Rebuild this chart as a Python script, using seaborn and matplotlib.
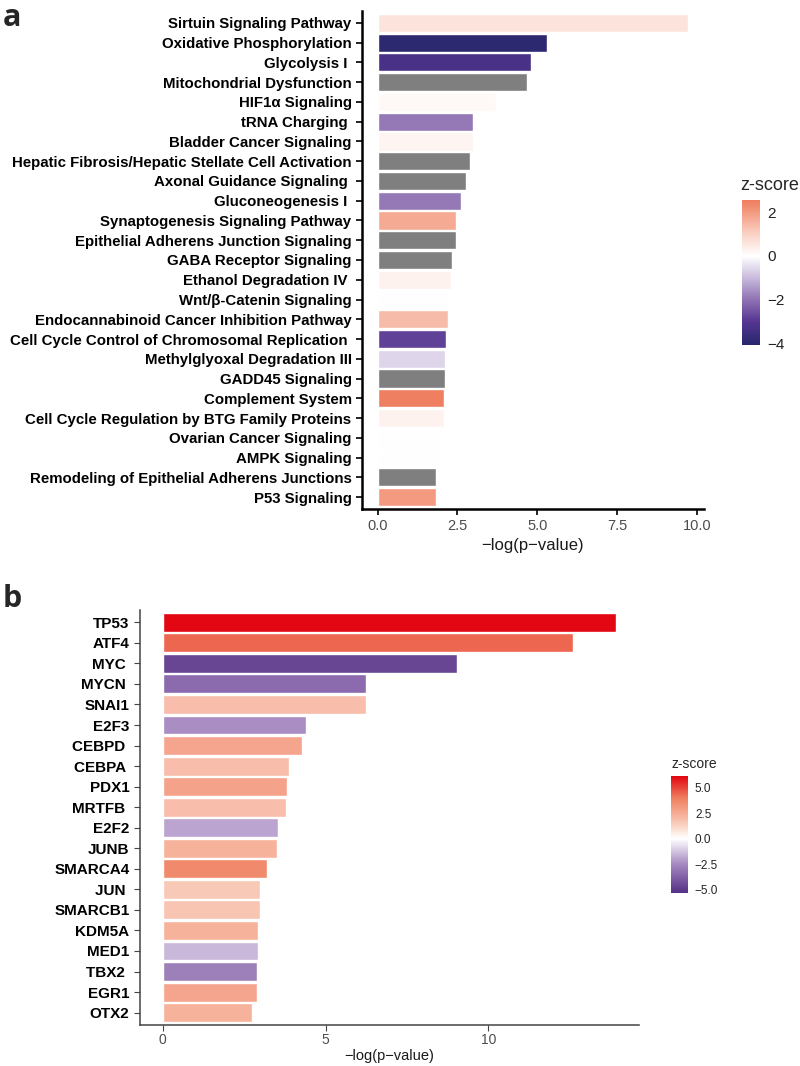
import numpy as np
import pandas as pd
import matplotlib
matplotlib.use("Agg")
import matplotlib.pyplot as plt
import seaborn as sns
from matplotlib.colors import LinearSegmentedColormap, Normalize
from matplotlib.cm import ScalarMappable

sns.set_style("white")
plt.rcParams['font.family'] = ['Liberation Sans', 'DejaVu Sans']

# ---- panel a: canonical pathways ----
path_names = ['Sirtuin Signaling Pathway', 'Oxidative Phosphorylation', 'Glycolysis I ',
              'Mitochondrial Dysfunction', 'HIF1α Signaling', 'tRNA Charging ',
              'Bladder Cancer Signaling', 'Hepatic Fibrosis/Hepatic Stellate Cell Activation',
              'Axonal Guidance Signaling ', 'Gluconeogenesis I ', 'Synaptogenesis Signaling Pathway',
              'Epithelial Adherens Junction Signaling', 'GABA Receptor Signaling',
              'Ethanol Degradation IV ', 'Wnt/β-Catenin Signaling',
              'Endocannabinoid Cancer Inhibition Pathway',
              'Cell Cycle Control of Chromosomal Replication ', 'Methylglyoxal Degradation III',
              'GADD45 Signaling', 'Complement System',
              'Cell Cycle Regulation by BTG Family Proteins', 'Ovarian Cancer Signaling',
              'AMPK Signaling', 'Remodeling of Epithelial Adherens Junctions', 'P53 Signaling']
path_logp = [9.72, 5.31, 4.81, 4.68, 3.72, 3.0, 2.97, 2.9, 2.76, 2.6, 2.46, 2.45, 2.32,
             2.3, 2.25, 2.19, 2.13, 2.12, 2.12, 2.09, 2.09, 2.0, 1.95, 1.84, 1.84]
path_z = [0.6, -3.9, -3.3, np.nan, 0.15, -1.9, 0.25, np.nan, np.nan, -1.9, 1.7, np.nan,
          np.nan, 0.3, 0.0, 1.4, -2.8, -0.6, np.nan, 2.5, 0.3, 0.0, 0.0, np.nan, 2.0]

# ---- panel b: upstream regulators ----
reg_names = ['TP53', 'ATF4', 'MYC ', 'MYCN ', 'SNAI1', 'E2F3', 'CEBPD ', 'CEBPA ', 'PDX1',
             'MRTFB ', 'E2F2', 'JUNB', 'SMARCA4', 'JUN ', 'SMARCB1', 'KDM5A', 'MED1',
             'TBX2 ', 'EGR1', 'OTX2']
reg_logp = [13.93, 12.6, 9.05, 6.23, 6.23, 4.39, 4.26, 3.87, 3.81, 3.77, 3.55, 3.52,
            3.2, 3.0, 2.97, 2.91, 2.91, 2.88, 2.88, 2.75]
reg_z = [6.1, 4.4, -4.6, -3.4, 1.9, -2.4, 2.7, 1.9, 2.8, 1.9, -1.9, 2.3, 3.6, 1.6, 1.7,
         2.3, -1.5, -2.8, 2.7, 2.3]


def make_cmap(stops, vmin, vmax):
    pos = [(v - vmin) / (vmax - vmin) for v, c in stops]
    return LinearSegmentedColormap.from_list('z', list(zip(pos, [c for v, c in stops])))


zmin_a, zmax_a = -4.05, 2.55
cmap_a = make_cmap([(-4.05, '#27276B'), (-3.0, '#553592'), (-2.0, '#8F72B3'),
                    (-1.0, '#C8BADC'), (0.0, '#FFFFFF'), (1.0, '#FAD2C5'),
                    (2.0, '#F39A80'), (2.55, '#EF7E5F')], zmin_a, zmax_a)
norm_a = Normalize(zmin_a, zmax_a)

zmin_b, zmax_b = -5.3, 6.1
cmap_b = make_cmap([(-5.3, '#553186'), (-2.5, '#A588C0'), (0.0, '#FFFFFF'),
                    (2.0, '#F8BBA6'), (4.0, '#EF7D5E'), (6.1, '#E30613')], zmin_b, zmax_b)
norm_b = Normalize(zmin_b, zmax_b)


def bar_colors(names, zs, cmap, norm):
    return {n: ('#7F7F7F' if np.isnan(z) else cmap(norm(z))) for n, z in zip(names, zs)}


fig = plt.figure(figsize=(8, 10.66), dpi=100)

# ---------------- a ----------------
df_a = pd.DataFrame({'pathway': path_names, 'logp': path_logp})
ax_a = fig.add_axes([0.4525, 0.5225, 0.4275, 0.4672])
sns.barplot(data=df_a, x='logp', y='pathway', hue='pathway',
            palette=bar_colors(path_names, path_z, cmap_a, norm_a),
            width=0.92, saturation=1, errorbar=None, legend=False, ax=ax_a)
ax_a.set_xlim(-0.486, 10.21)
ax_a.set_ylim(len(path_names) - 0.4, -0.6)
sns.despine(ax=ax_a)
for s in ['left', 'bottom']:
    ax_a.spines[s].set_linewidth(1.8)
    ax_a.spines[s].set_color('black')
ax_a.set_xticks([0, 2.5, 5, 7.5, 10])
ax_a.set_xticklabels(['0.0', '2.5', '5.0', '7.5', '10.0'], fontsize=10.5, color='#4D4D4D')
ax_a.tick_params(axis='both', length=4, width=1.2, color='black', bottom=True, left=True)
for lab in ax_a.get_yticklabels():
    lab.set_fontweight('bold')
    lab.set_fontsize(10.8)
    lab.set_color('black')
ax_a.set_xlabel('−log(p−value)', fontsize=12, color='#1A1A1A', labelpad=3)
ax_a.set_ylabel('')

cax_a = fig.add_axes([0.9275, 0.6764, 0.0225, 0.136])
cb_a = fig.colorbar(ScalarMappable(norm=norm_a, cmap=cmap_a), cax=cax_a)
cb_a.outline.set_visible(False)
cb_a.set_ticks([2, 0, -2, -4])
cb_a.set_ticklabels(['2', '0', '−2', '−4'])
cax_a.tick_params(length=4, width=1, color='white', direction='in', labelsize=11,
                  labelcolor='#222222', pad=5)
cax_a.set_title('z-score', loc='left', fontsize=13, pad=7, x=-0.1)

# ---------------- b ----------------
df_b = pd.DataFrame({'regulator': reg_names, 'logp': reg_logp})
ax_b = fig.add_axes([0.175, 0.0385, 0.624, 0.3893])
sns.barplot(data=df_b, x='logp', y='regulator', hue='regulator',
            palette=bar_colors(reg_names, reg_z, cmap_b, norm_b),
            width=0.92, saturation=1, errorbar=None, legend=False, ax=ax_b)
ax_b.set_xlim(-0.7, 14.63)
ax_b.set_ylim(len(reg_names) - 0.4, -0.6)
sns.despine(ax=ax_b)
for s in ['left', 'bottom']:
    ax_b.spines[s].set_linewidth(1.1)
    ax_b.spines[s].set_color('#444444')
ax_b.set_xticks([0, 5, 10])
ax_b.set_xticklabels(['0', '5', '10'], fontsize=10, color='#4D4D4D')
ax_b.tick_params(axis='both', length=4, width=0.8, color='#444444', bottom=True, left=True)
ax_b.tick_params(axis='x', pad=2)
for lab in ax_b.get_yticklabels():
    lab.set_fontweight('bold')
    lab.set_fontsize(11)
    lab.set_color('black')
ax_b.set_xlabel('−log(p−value)', fontsize=10.5, color='#1A1A1A', labelpad=1)
ax_b.set_ylabel('')

cax_b = fig.add_axes([0.839, 0.1623, 0.021, 0.1095])
cb_b = fig.colorbar(ScalarMappable(norm=norm_b, cmap=cmap_b), cax=cax_b)
cb_b.outline.set_visible(False)
cb_b.set_ticks([5, 2.5, 0, -2.5, -5])
cb_b.set_ticklabels(['5.0', '2.5', '0.0', '−2.5', '−5.0'])
cax_b.tick_params(length=3, width=1, color='white', direction='in', labelsize=8.5,
                  labelcolor='#222222', pad=5)
cax_b.set_title('z-score', loc='left', fontsize=10, pad=6)

# panel letters
fig.text(0.003, 0.997, 'a', fontsize=22, fontweight='bold', va='top', ha='left',
         family=['Open Sans', 'DejaVu Sans'])
fig.text(0.003, 0.452, 'b', fontsize=22, fontweight='bold', va='top', ha='left',
         family=['Open Sans', 'DejaVu Sans'])

fig.savefig('out.png', dpi=100)
